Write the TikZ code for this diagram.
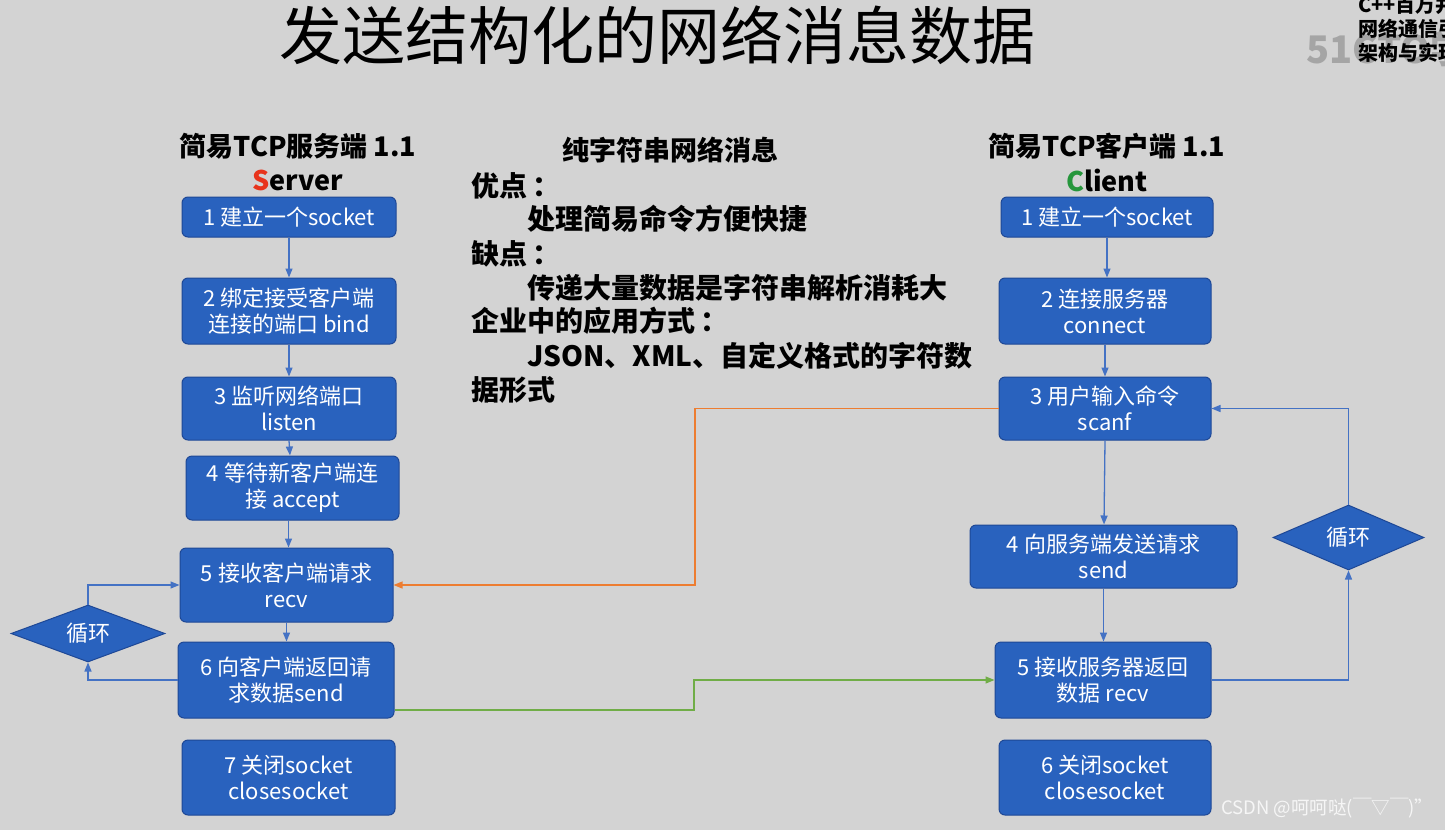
\documentclass[tikz,border=0pt]{standalone}
\usepackage{fontspec}
\setmainfont{Noto Sans CJK SC}
\usetikzlibrary{arrows.meta, positioning, shapes.geometric, calc}

\definecolor{slidebg}{RGB}{211,211,211}
\definecolor{boxblue}{RGB}{41,98,190}
\definecolor{boxedge}{RGB}{30,72,150}
\definecolor{linkblue}{RGB}{68,114,196}
\definecolor{reqorange}{RGB}{237,125,49}
\definecolor{repgreen}{RGB}{112,173,71}
\definecolor{srvred}{RGB}{232,52,28}
\definecolor{cligreen}{RGB}{38,150,60}
\definecolor{logogray}{RGB}{165,165,165}

\begin{document}
\begin{tikzpicture}[
    x=1pt, y=-1pt,
    >={Triangle[length=9pt,width=7pt]},
    stepbox/.style={
        rectangle, rounded corners=6pt, draw=boxedge, line width=1pt,
        fill=boxblue, text=white, minimum width=#1, inner sep=2pt,
        align=center, font=\fontsize{22pt}{26pt}\selectfont
    },
    stepbox/.default={214pt},
    loopdia/.style={
        diamond, aspect=2.6, draw=boxedge, line width=1pt, fill=boxblue,
        text=white, inner sep=0pt, font=\fontsize{22pt}{26pt}\selectfont
    },
    heading/.style={
        font=\bfseries\fontsize{27pt}{32pt}\selectfont
    },
    note/.style={
        anchor=west, inner sep=0pt, font=\bfseries\fontsize{28pt}{32pt}\selectfont
    },
    flow/.style={
        ->, line width=1.3pt, linkblue
    },
    cross/.style={
        ->, line width=1.2pt, #1
    }
]

\useasboundingbox (0,0) rectangle (1445,830);
\fill[slidebg] (0,0) rectangle (1445,830);

% ── Title ──
\node[font=\fontsize{63pt}{70pt}\selectfont] (title) at (657,35) {发送结构化的网络消息数据};

% ── Course tag, top right (cut by the page edge) ──
\node[anchor=north west, inner sep=0pt, text=logogray,
      font=\bfseries\fontsize{38pt}{40pt}\selectfont] (logo) at (1306,30) {51CTO学院};
\node[anchor=north west, inner sep=0pt, align=left,
      font=\bfseries\fontsize{20pt}{24pt}\selectfont] (course) at (1358,-5)
    {C++百万并发\\网络通信引擎\\架构与实现};

% ── Server column ──
\node[heading] (srvhead) at (298,146) {简易TCP服务端 1.1};
\node[heading] (srvname) at (298,180) {\textcolor{srvred}{S}erver};

\node[stepbox, minimum height=40pt] (s1) at (289,217) {1 建立一个socket};
\node[stepbox, minimum height=66pt] (s2) at (289,311) {2 绑定接受客户端\\连接的端口 bind};
\node[stepbox, minimum height=63pt] (s3) at (289,408.5) {3 监听网络端口\\listen};
\node[stepbox=213pt, minimum height=64pt] (s4) at (292.5,488) {4 等待新客户端连\\接 accept};
\node[stepbox=213pt, minimum height=74pt] (s5) at (286.5,585) {5 接收客户端请求\\recv};
\node[stepbox=216pt, minimum height=76pt] (s6) at (286,680) {6 向客户端返回请\\求数据send};
\node[stepbox=213pt, minimum height=75pt] (s7) at (288.5,777.5) {7 关闭socket\\closesocket};

\node[loopdia, minimum width=154pt, minimum height=57pt] (sloop) at (88,633.5) {循环};

% ── Message notes ──
\node[font=\bfseries\fontsize{27pt}{32pt}\selectfont] (notehead) at (670,150) {纯字符串网络消息};
\node[note] (pro) at (471,186) {优点\hspace{5pt}：};
\node[note] (protext) at (527,219) {处理简易命令方便快捷};
\node[note] (con) at (471,254) {缺点\hspace{5pt}：};
\node[note] (context) at (527,288) {传递大量数据是字符串解析消耗大};
\node[note] (use) at (471,321) {企业中的应用方式\hspace{5pt}：};
\node[note] (usetext) at (527,356) {JSON、XML、自定义格式的字符数};
\node[note] (usetail) at (471,390) {据形式};

% ── Client column ──
\node[heading] (clihead) at (1107,146) {简易TCP客户端 1.1};
\node[heading] (cliname) at (1107,180) {\textcolor{cligreen}{C}lient};

\node[stepbox=212pt, minimum height=40pt] (c1) at (1107,217) {1 建立一个socket};
\node[stepbox=212pt, minimum height=66pt] (c2) at (1105,311) {2 连接服务器\\connect};
\node[stepbox=212pt, minimum height=63pt] (c3) at (1105,408.5) {3 用户输入命令\\scanf};
\node[stepbox=267pt, minimum height=63pt] (c4) at (1103.5,556.5) {4 向服务端发送请求\\send};
\node[stepbox=216pt, minimum height=76pt] (c5) at (1103,680) {5 接收服务器返回\\数据 recv};
\node[stepbox=212pt, minimum height=75pt] (c6) at (1105,777.5) {6 关闭socket\\closesocket};

\node[loopdia, minimum width=151pt, minimum height=65pt] (cloop) at (1348.5,537.5) {循环};

% ── Bend points of the cross links ──
\coordinate (reqbend) at (695,0);
\coordinate (repbend) at (694,0);

% ── Arrows: server ──
\draw[flow] (s1.south) -- (s1.south |- s2.north);
\draw[flow] (s2.south) -- (s2.south |- s3.north);
\draw[flow] (s3.south) -- ([xshift=1pt]s3.south |- s4.north);
\draw[flow] ([xshift=-4pt]s4.south) -- ([xshift=-4pt]s4.south |- s5.north);
\draw[flow] (s5.south) -- (s5.south |- s6.north);
\draw[flow] (s6.west) -| (sloop.south);
\draw[flow] (sloop.north) |- (s5.west);

% ── Arrows: client ──
\draw[flow] (c1.south) -- (c1.south |- c2.north);
\draw[flow] (c2.south) -- (c2.south |- c3.north);
\draw[flow] (c3.south) -- ([xshift=-1pt]c3.south |- c4.north);
\draw[flow] (c4.south) -- (c4.south |- c5.north);
\draw[flow] (c5.east) -| (cloop.south);
\draw[flow] (cloop.north) |- (c3.east);

% ── Request and reply links ──
\draw[cross=reqorange] (c3.west) -| (reqbend |- s5.east) -- (s5.east);
\draw[cross=repgreen] ([yshift=-30pt]s6.east) -| (repbend |- c5.west) -- (c5.west);

% ── Watermark ──
\node[anchor=east, text=white!93!gray, font=\fontsize{18.5pt}{22pt}\selectfont] (mark) at (1437,808) {CSDN @呵呵哒(￣▽￣)"};

\end{tikzpicture}
\end{document}
